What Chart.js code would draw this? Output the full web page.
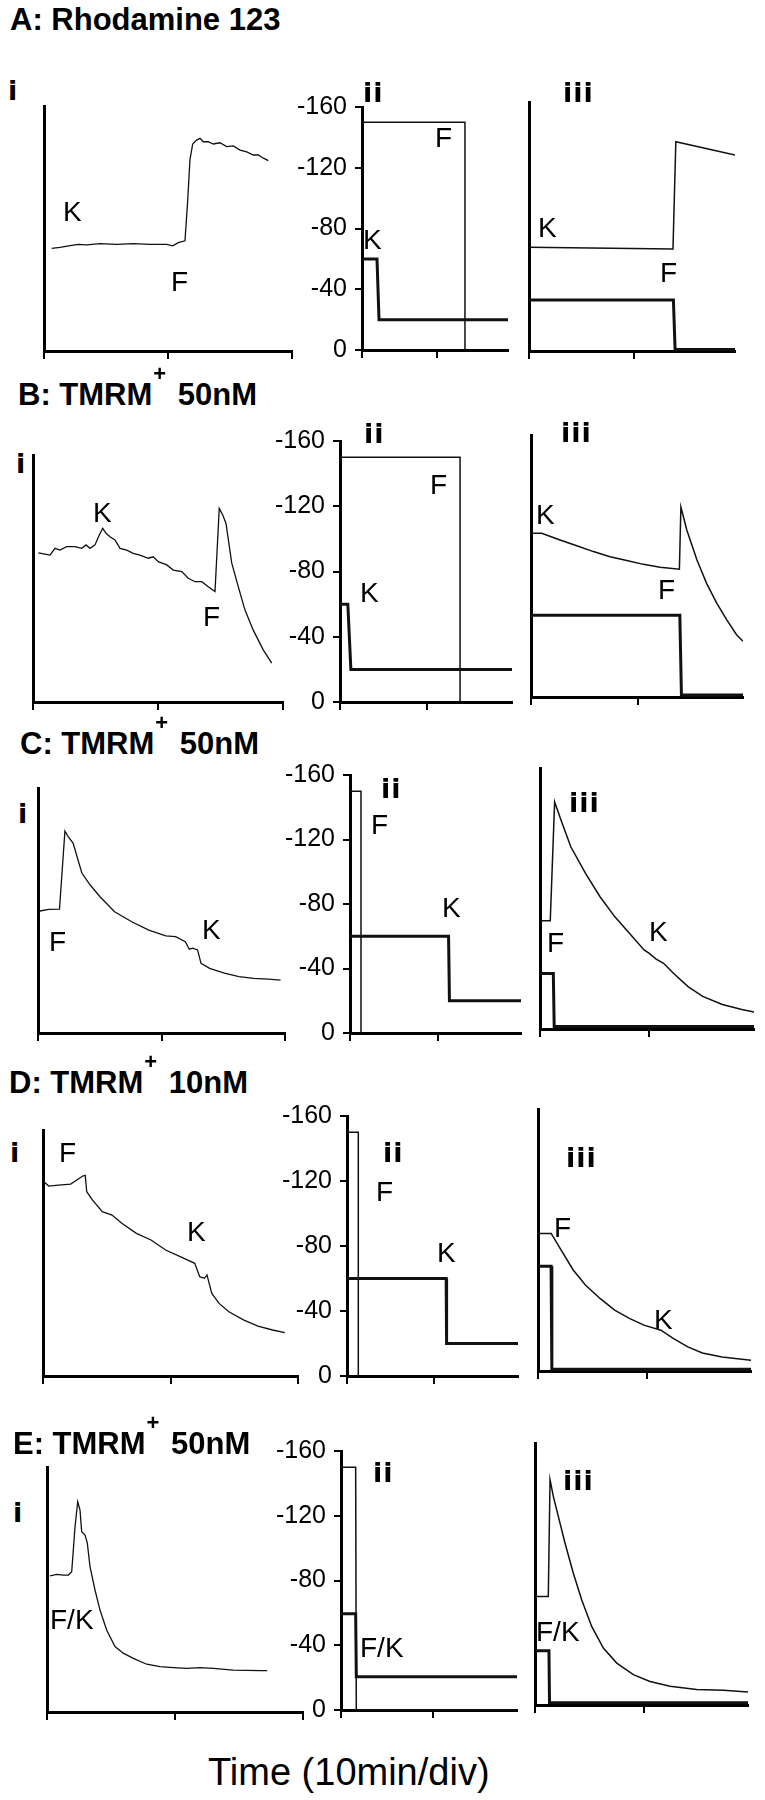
<!DOCTYPE html>
<html>
<head>
<meta charset="utf-8">
<script src="https://cdn.jsdelivr.net/npm/chart.js@4.4.0/dist/chart.umd.min.js"></script>
<style>
  body { margin: 0; background: #fff; }
  #fig { position: relative; width: 765px; height: 1800px; overflow: hidden;
         font-family: "Liberation Sans", Arial, sans-serif; color: #000; }
  #fig canvas { position: absolute; }
  .t { position: absolute; line-height: 1; white-space: nowrap; }
  .title { font-size: 31px; font-weight: bold; }
  .sup { font-size: 22px; position: relative; top: -24px; margin: 0 3px 0 1px; }
  .pl { font-family: "DejaVu Sans", sans-serif; font-weight: bold; font-size: 27px; letter-spacing: 1px; }
  .ann { font-size: 28px; }
  .axis { font-size: 38px; }
</style>
</head>
<body>
<div id="fig"></div>
<script>
// tick values
const timeTicks = [0, 10, 20];          // min (10 min/div)
const mvTicks = [-160, -120, -80, -40, 0];

// panel i: recorded fluorescence (arbitrary units, 0-100 of the axis), time in min
const traceA_t = [0.62, 1.29, 2.1, 2.77, 3.44, 4.52, 5.86, 7.2, 8.55, 9.9, 10.38, 10.83, 11.37, 11.59, 11.77, 11.99, 12.31, 12.58, 12.85, 13.25, 13.65, 14.19, 14.73, 15.27, 15.81, 16.35, 16.88, 17.28, 17.69, 18.09];
const traceA_y = [41.9, 42.3, 43.0, 43.5, 43.3, 43.8, 43.5, 43.8, 43.5, 43.5, 42.9, 44.2, 45.0, 61.6, 78.0, 84.5, 86.1, 86.8, 85.4, 85.4, 84.5, 85.0, 83.4, 83.7, 82.0, 81.3, 80.0, 80.0, 78.7, 77.7];

const traceB_t = [0.43, 0.96, 1.36, 1.76, 2.16, 2.69, 3.36, 3.9, 4.24, 4.56, 4.96, 5.3, 5.58, 5.84, 6.16, 6.56, 6.96, 7.5, 8.02, 8.56, 9.22, 9.62, 10.02, 10.7, 11.22, 11.9, 12.42, 12.96, 13.5, 14.02, 14.56, 14.9, 15.18, 15.44, 15.9, 16.42, 16.96, 17.62, 18.42, 19.1];
const traceB_y = [60.4, 59.9, 59.5, 62.2, 61.5, 62.9, 62.9, 62.2, 63.6, 62.2, 63.6, 67.6, 70.3, 68.3, 66.9, 65.6, 62.2, 61.5, 60.2, 59.5, 58.2, 58.8, 56.8, 55.5, 53.4, 52.8, 50.1, 48.7, 48.7, 46.7, 44.7, 78.4, 75.7, 72.3, 56.2, 46.7, 37.2, 29.1, 21.1, 15.7];

const traceC_t = [0.16, 0.87, 1.74, 2.18, 2.45, 2.85, 3.24, 3.56, 4.23, 5.02, 6.2, 7.59, 8.97, 10.35, 11.14, 11.93, 12.25, 12.52, 12.92, 13.2, 13.9, 15.09, 16.27, 17.47, 18.65, 19.64];
const traceC_y = [49.8, 50.5, 50.6, 82.4, 80.1, 77.4, 70.6, 65.2, 60.4, 55.6, 49.5, 45.4, 42.0, 39.6, 39.3, 37.3, 34.2, 34.6, 33.9, 28.4, 26.4, 24.4, 23.0, 22.3, 22.0, 21.6];

const traceD_t = [0.07, 0.45, 1.21, 2.17, 2.74, 3.12, 3.31, 3.43, 3.89, 4.65, 5.41, 6.18, 7.32, 8.47, 9.62, 10.76, 11.9, 12.29, 12.67, 12.86, 13.24, 13.81, 14.58, 15.72, 16.86, 18.0, 18.97];
const traceD_y = [79.0, 77.2, 77.6, 78.0, 80.0, 81.3, 81.6, 74.9, 71.5, 66.8, 65.4, 62.1, 58.0, 55.3, 51.2, 48.5, 45.8, 40.4, 39.7, 41.1, 33.6, 29.5, 26.1, 22.8, 20.3, 18.7, 17.6];

const traceE_t = [0.23, 0.76, 1.28, 1.67, 1.93, 2.19, 2.4, 2.58, 2.71, 2.97, 3.15, 3.36, 3.75, 4.14, 4.66, 5.31, 5.96, 6.74, 7.79, 8.83, 9.87, 10.9, 11.95, 13.0, 14.55, 16.64, 17.2];
const traceE_y = [55.6, 56.2, 55.9, 55.9, 57.3, 75.6, 85.8, 82.4, 73.6, 72.2, 68.9, 59.3, 49.8, 41.6, 33.5, 26.7, 24.0, 21.9, 19.5, 18.5, 18.1, 17.8, 18.1, 17.8, 17.1, 16.9, 16.9];

// panel ii: potentials (mV), thick = K, thin = F
const potK_A_t = [0, 2.0, 2.27, 19.47],  potK_A_mv = [-60, -60, -20, -20];
const potF_A_t = [0, 13.73, 13.73],      potF_A_mv = [-150, -150, 0];
const potK_B_t = [0, 0.9, 1.25, 19.77],  potK_B_mv = [-60, -60, -20, -20];
const potF_B_t = [0, 13.8, 13.8],        potF_B_mv = [-150, -150, 0];
const potK_C_t = [0, 11.2, 11.3, 19.43], potK_C_mv = [-60, -60, -20, -20];
const potF_C_t = [0, 1.25, 1.25],        potF_C_mv = [-150, -150, 0];
const potK_D_t = [0, 11.4, 11.45, 19.66], potK_D_mv = [-60, -60, -20, -20];
const potF_D_t = [0, 1.3, 1.3],          potF_D_mv = [-150, -150, 0];
const potK_E_t = [0, 1.6, 1.67, 19.2],   potK_E_mv = [-59.5, -59.5, -20.5, -20.5];
const potF_E_t = [0, 1.6, 1.67, 19.2],   potF_E_mv = [-150, -150, 0, 0];

// panel iii: simulated signal (thin) and step (thick), mV scale
const simA_t = [0, 13.7, 13.97, 19.6], simA_mv = [-66.6, -65.5, -134.5, -126];
const stepA_t = [0, 13.74, 13.9, 19.6], stepA_mv = [-32.8, -32.8, -1, -1];
const simB_t = [0, 1.0, 2.71, 4.27, 5.83, 7.38, 8.94, 10.5, 12.06, 13.86, 14.0, 14.55, 15.5, 16.4, 17.36, 18.3, 19.2, 19.8];
const simB_mv = [-100, -100, -95.9, -92.4, -88.8, -85.7, -83.3, -81, -79.2, -78, -116, -102, -83.7, -69.4, -57.2, -47, -38, -34];
const stepB_t = [0, 13.9, 14.05, 19.8], stepB_mv = [-50, -50, -1.2, -1.2];
const simC_t = [0, 0.94, 1.34, 1.93, 2.82, 4.17, 5.5, 6.84, 8.19, 9.53, 9.98, 10.64, 11.32, 12.22, 13.56, 14.9, 16.7, 18.49, 19.6];
const simC_mv = [-66.4, -66.4, -139.2, -128, -111.7, -95.4, -81.1, -68.9, -58.7, -48.5, -46.5, -42.8, -40.3, -34.2, -26, -20, -15, -12, -10.4];
const stepC_t = [0, 1.22, 1.3, 19.6], stepC_mv = [-34, -34, -1.6, -1.6];
const simD_t = [0, 1.21, 2.11, 3.23, 4.35, 5.69, 7.03, 8.38, 9.72, 11.28, 12.4, 13.74, 15.08, 16.88, 19.54];
const simD_mv = [-84, -84, -73.9, -61.7, -52.5, -44.3, -37.2, -32.1, -28, -24.9, -19.9, -14.7, -11, -8.6, -6.6];
const stepD_t = [0, 1.2, 1.27, 19.54], stepD_mv = [-64, -64, -1, -1];
const simE_t = [0, 1.22, 1.38, 1.68, 2.14, 2.75, 3.51, 4.28, 5.2, 6.27, 7.5, 9.02, 10.55, 12.39, 14.83, 17.28, 19.54];
const simE_mv = [-66.3, -66.3, -137.6, -127.4, -115.2, -98.9, -80.6, -64.3, -48, -34.8, -25.6, -18.5, -14.4, -11.4, -9.4, -9, -8];
const stepE_t = [0, 1.28, 1.33, 19.54], stepE_mv = [-33.1, -33.1, -1.4, -1.4];

const pts = (t, v) => t.map((x, i) => ({ x: x, y: v[i] }));

const fig = document.getElementById("fig");
const FONT = '"Liberation Sans", Arial, sans-serif';

function makePanel(box, kind, sets) {
  const wy = kind === "ii" ? 80 : 6;
  const padTop = 16, padR = 6, hx = 24;
  const c = document.createElement("canvas");
  const w = wy + (box.R - box.L) + padR;
  const h = padTop + (box.B - box.T) + hx;
  c.width = w; c.height = h;
  c.style.left = (box.L - wy) + "px";
  c.style.top = (box.T - padTop) + "px";
  c.style.width = w + "px"; c.style.height = h + "px";
  fig.appendChild(c);

  const mv = kind !== "i";
  new Chart(c.getContext("2d"), {
    type: "line",
    data: {
      datasets: sets.map(s => ({
        data: s.data,
        borderColor: "#111",
        borderWidth: s.width,
        pointRadius: 0,
        fill: false,
        tension: 0,
        borderCapStyle: "butt",
        clip: { left: 5, top: 5, right: 0, bottom: 5 },
      })),
    },
    options: {
      responsive: false,
      animation: false,
      devicePixelRatio: 1,
      layout: { padding: { top: padTop, right: padR, left: 0, bottom: 0 } },
      plugins: { legend: { display: false }, tooltip: { enabled: false } },
      scales: {
        x: {
          type: "linear", min: 0, max: box.xMax,
          afterBuildTicks: s => { s.ticks = timeTicks.filter(v => v <= box.xMax + 1e-6).map(v => ({ value: v })); },
          afterFit: s => { s.height = hx; },
          ticks: { display: false },
          grid: { display: true, drawOnChartArea: false, drawTicks: true, tickLength: 8, color: "#000", lineWidth: 2 },
          border: { display: true, color: "#000", width: 3 },
        },
        y: {
          type: "linear",
          min: mv ? -160 : 0, max: mv ? 0 : 100,
          reverse: mv,
          afterBuildTicks: s => { if (kind === "ii") s.ticks = mvTicks.map(v => ({ value: v })); },
          afterFit: s => { s.width = wy; },
          ticks: { display: kind === "ii", color: "#000", padding: 8, font: { family: FONT, size: 25 }, callback: v => String(v) },
          grid: { display: kind === "ii", drawOnChartArea: false, tickLength: 7, color: "#000", lineWidth: 2 },
          border: { display: true, color: "#000", width: 3 },
        },
      },
    },
  });
}

function text(html, left, top, cls) {
  const d = document.createElement("div");
  d.className = "t " + cls;
  d.innerHTML = html;
  d.style.left = left + "px";
  d.style.top = top + "px";
  fig.appendChild(d);
}

// layout: chart-area boxes per row
const rows = [
  { title: "A: Rhodamine 123", tl: [10, 4],
    i:   { L: 44,  T: 106, R: 292, B: 351, xMax: 20 },
    ii:  { L: 362, T: 100, R: 508, B: 350, xMax: 19.47 },
    iii: { L: 529, T: 102, R: 735, B: 351, xMax: 19.6 },
    trace: [traceA_t, traceA_y], K: [potK_A_t, potK_A_mv], F: [potF_A_t, potF_A_mv],
    sim: [simA_t, simA_mv], step: [stepA_t, stepA_mv],
    pl: [[8, 78], [363, 80], [563, 80]],
    ann: [["K", 63, 198], ["F", 171, 268], ["F", 435, 124], ["K", 363, 226], ["K", 538, 214], ["F", 660, 259]] },
  { title: "B: TMRM<span class=\"sup\">+</span> 50nM", tl: [18, 379],
    i:   { L: 33,  T: 455, R: 283, B: 702, xMax: 20 },
    ii:  { L: 340, T: 434, R: 512, B: 702, xMax: 19.77 },
    iii: { L: 531, T: 435, R: 743, B: 697, xMax: 19.8 },
    trace: [traceB_t, traceB_y], K: [potK_B_t, potK_B_mv], F: [potF_B_t, potF_B_mv],
    sim: [simB_t, simB_mv], step: [stepB_t, stepB_mv],
    pl: [[16, 451], [364, 421], [561, 420]],
    ann: [["K", 93, 499], ["F", 203, 603], ["F", 430, 471], ["K", 360, 579], ["K", 536, 501], ["F", 658, 576]] },
  { title: "C: TMRM<span class=\"sup\">+</span> 50nM", tl: [20, 728],
    i:   { L: 38,  T: 788, R: 285, B: 1033, xMax: 20 },
    ii:  { L: 350, T: 768, R: 521, B: 1033, xMax: 19.43 },
    iii: { L: 540, T: 768, R: 754, B: 1029, xMax: 19.6 },
    trace: [traceC_t, traceC_y], K: [potK_C_t, potK_C_mv], F: [potF_C_t, potF_C_mv],
    sim: [simC_t, simC_mv], step: [stepC_t, stepC_mv],
    pl: [[18, 801], [381, 776], [569, 790]],
    ann: [["F", 49, 928], ["K", 202, 916], ["F", 371, 811], ["K", 442, 894], ["F", 547, 929], ["K", 649, 918]] },
  { title: "D: TMRM<span class=\"sup\">+</span> 10nM", tl: [9, 1067],
    i:   { L: 43,  T: 1130, R: 298, B: 1376, xMax: 20 },
    ii:  { L: 347, T: 1109, R: 518, B: 1376, xMax: 19.66 },
    iii: { L: 538, T: 1109, R: 751, B: 1371, xMax: 19.54 },
    trace: [traceD_t, traceD_y], K: [potK_D_t, potK_D_mv], F: [potF_D_t, potF_D_mv],
    sim: [simD_t, simD_mv], step: [stepD_t, stepD_mv],
    pl: [[10, 1140], [383, 1140], [566, 1145]],
    ann: [["F", 59, 1139], ["K", 187, 1218], ["F", 376, 1178], ["K", 437, 1239], ["F", 554, 1214], ["K", 654, 1306]] },
  { title: "E: TMRM<span class=\"sup\">+</span> 50nM", tl: [13, 1428],
    i:   { L: 47,  T: 1467, R: 303, B: 1712, xMax: 20 },
    ii:  { L: 341, T: 1444, R: 517, B: 1710, xMax: 19.2 },
    iii: { L: 535, T: 1443, R: 748, B: 1705, xMax: 19.54 },
    trace: [traceE_t, traceE_y], K: [potK_E_t, potK_E_mv], F: [potF_E_t, potF_E_mv],
    sim: [simE_t, simE_mv], step: [stepE_t, stepE_mv],
    pl: [[13, 1500], [373, 1460], [563, 1468]],
    ann: [["F/K", 50, 1606], ["F/K", 360, 1634], ["F/K", 536, 1618]] },
];

rows.forEach(r => {
  makePanel(r.i, "i", [{ data: pts(r.trace[0], r.trace[1]), width: 1.3 }]);
  makePanel(r.ii, "ii", [
    { data: pts(r.F[0], r.F[1]), width: 1.5 },
    { data: pts(r.K[0], r.K[1]), width: 3 },
  ]);
  makePanel(r.iii, "iii", [
    { data: pts(r.sim[0], r.sim[1]), width: 1.5 },
    { data: pts(r.step[0], r.step[1]), width: 3 },
  ]);

  text(r.title, r.tl[0], r.tl[1], "title");
  ["i", "ii", "iii"].forEach((s, k) => text(s, r.pl[k][0], r.pl[k][1] - 1, "pl"));
  r.ann.forEach(a => text(a[0], a[1], a[2], "ann"));
});

text("Time (10min/div)", 208, 1753, "axis");
</script>
</body>
</html>
